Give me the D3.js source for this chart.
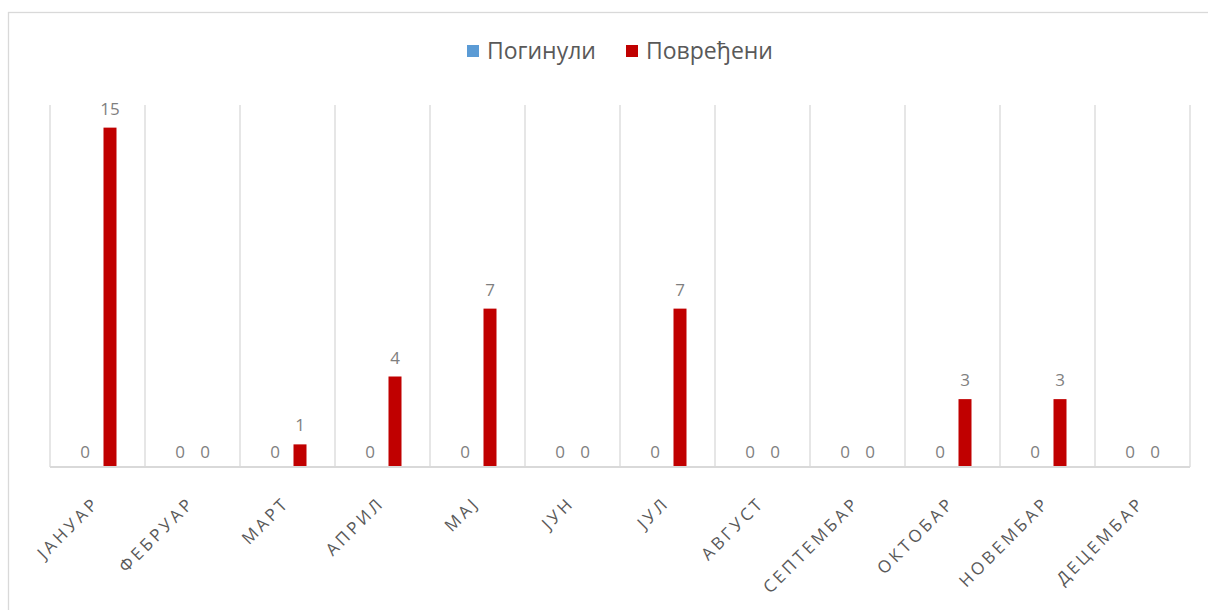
<!DOCTYPE html>
<html>
<head>
<meta charset="utf-8">
<script src="https://cdn.jsdelivr.net/npm/d3@7"></script>
<style>
  html, body { margin: 0; padding: 0; background: #fff; }
  svg { display: block; }
  text { font-family: "Open Sans", "Noto Sans", sans-serif; }
</style>
</head>
<body>
<svg id="chart" width="1208" height="610"></svg>
<script>
// Monthly casualties: killed (Погинули) and injured (Повређени)
const months = ["ЈАНУАР", "ФЕБРУАР", "МАРТ", "АПРИЛ", "МАЈ", "ЈУН",
                "ЈУЛ", "АВГУСТ", "СЕПТЕМБАР", "ОКТОБАР", "НОВЕМБАР", "ДЕЦЕМБАР"];
const seriesNames = ["Погинули", "Повређени"];
const killed  = [0, 0, 0, 0, 0, 0, 0, 0, 0, 0, 0, 0];
const injured = [15, 0, 1, 4, 7, 0, 7, 0, 0, 3, 3, 0];
const yMax = 16;

const colors = { "Погинули": "#5b9bd5", "Повређени": "#c00000" };
const gridColor = "#d9d9d9";

const rows = months.map((m, i) => ({
  month: m,
  values: [
    { key: seriesNames[0], value: killed[i] },
    { key: seriesNames[1], value: injured[i] }
  ]
}));

const svg = d3.select("#chart");
const plot = { left: 50, right: 1190, top: 105, bottom: 467 };

// chart frame
svg.append("rect")
  .attr("x", 8.5).attr("y", 12.5)
  .attr("width", 1400).attr("height", 800)
  .attr("fill", "#fff")
  .attr("stroke", gridColor).attr("stroke-width", 1.3);

const x = d3.scaleBand().domain(months).range([plot.left, plot.right]).padding(0);
const bw = x.bandwidth();
const x1 = d3.scaleBand().domain(seriesNames)
  .range([bw / 2 - 19, bw / 2 + 19]).paddingInner(0.48).paddingOuter(0);
const y = d3.scaleLinear().domain([0, yMax]).range([plot.bottom, plot.top]);

// vertical gridlines at category boundaries
const bounds = months.map(m => x(m)).concat([x.range()[1]]);
svg.append("g").selectAll("line").data(bounds).join("line")
  .attr("x1", d => d).attr("x2", d => d)
  .attr("y1", y(yMax)).attr("y2", y(0))
  .attr("stroke", gridColor).attr("stroke-width", 1.3);

// bars
const groups = svg.append("g").selectAll("g").data(rows).join("g")
  .attr("transform", d => `translate(${x(d.month)},0)`);

groups.selectAll("rect").data(d => d.values).join("rect")
  .attr("x", d => x1(d.key))
  .attr("width", x1.bandwidth())
  .attr("y", d => y(d.value))
  .attr("height", d => y(0) - y(d.value))
  .attr("fill", d => colors[d.key]);

// value labels
groups.selectAll("text").data(d => d.values).join("text")
  .attr("x", d => x1(d.key) + x1.bandwidth() / 2)
  .attr("y", d => y(d.value) - (d.value === 0 ? 9 : 13))
  .attr("text-anchor", "middle")
  .attr("font-size", 17)
  .attr("fill", "#7f7f7f")
  .text(d => d.value);

// category axis baseline
svg.append("line")
  .attr("x1", plot.left).attr("x2", plot.right)
  .attr("y1", y(0)).attr("y2", y(0))
  .attr("stroke", gridColor).attr("stroke-width", 2);

// rotated month labels
svg.append("g").selectAll("text").data(months).join("text")
  .attr("transform", d => `translate(${x(d) + bw / 2 + 3},${plot.bottom + 37}) rotate(-45)`)
  .attr("text-anchor", "end")
  .attr("font-size", 17)
  .attr("letter-spacing", 3.3)
  .attr("fill", "#595959")
  .text(d => d);

// legend
const legend = svg.append("g").attr("transform", "translate(467,51)");
const legendX = [0, 159];
seriesNames.forEach((name, i) => {
  const g = legend.append("g").attr("transform", `translate(${legendX[i]},0)`);
  g.append("rect").attr("x", 0).attr("y", -6).attr("width", 12).attr("height", 12)
    .attr("fill", colors[name]);
  g.append("text").attr("x", 20).attr("y", 8)
    .attr("font-size", 23).attr("fill", "#595959").text(name);
});
</script>
</body>
</html>
